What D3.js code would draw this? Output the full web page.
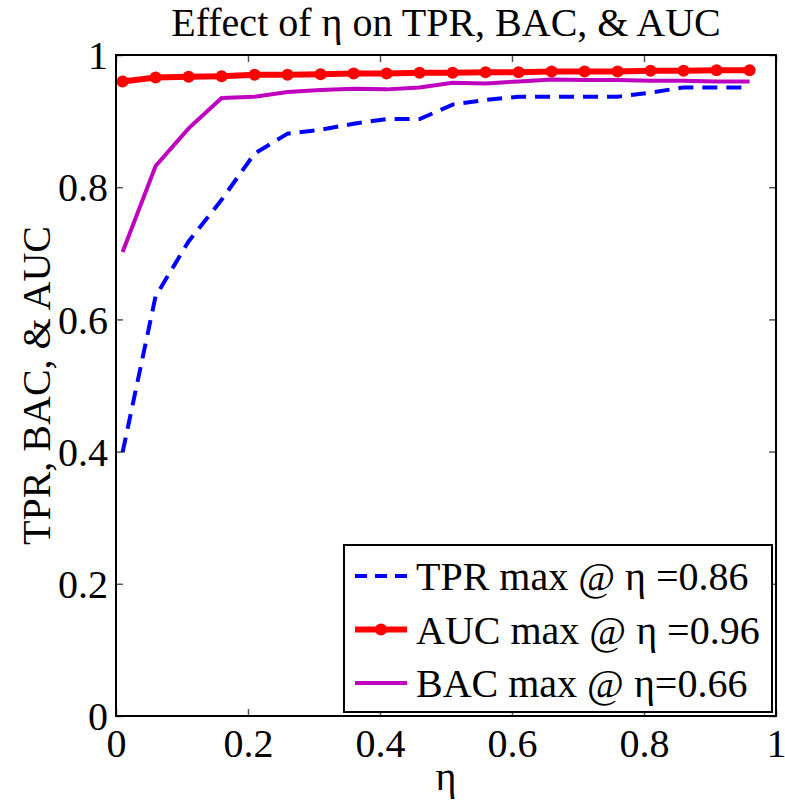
<!DOCTYPE html>
<html>
<head>
<meta charset="utf-8">
<script src="https://cdn.jsdelivr.net/npm/d3@7"></script>
</head>
<body style="margin:0;background:#fff">
<svg id="chart" width="785" height="803"></svg>
<script>
// ---- data ----
const eta = [0.01, 0.06, 0.11, 0.16, 0.21, 0.26, 0.31, 0.36, 0.41, 0.46,
             0.51, 0.56, 0.61, 0.66, 0.71, 0.76, 0.81, 0.86, 0.91, 0.96];
const tpr = [0.399, 0.635, 0.718, 0.781, 0.851, 0.881, 0.887, 0.896, 0.903, 0.903,
             0.925, 0.932, 0.937, 0.937, 0.937, 0.937, 0.943, 0.951, 0.951, 0.951];
const auc = [0.960, 0.966, 0.967, 0.968, 0.970, 0.970, 0.971, 0.972, 0.972, 0.973,
             0.973, 0.974, 0.974, 0.975, 0.975, 0.975, 0.976, 0.976, 0.977, 0.977];
const bac = [0.702, 0.832, 0.889, 0.935, 0.937, 0.944, 0.947, 0.949, 0.948, 0.951,
             0.958, 0.957, 0.960, 0.963, 0.962, 0.962, 0.961, 0.961, 0.960, 0.960];
const xTicks = [0, 0.2, 0.4, 0.6, 0.8, 1];
const yTicks = [0, 0.2, 0.4, 0.6, 0.8, 1];
const titleText = "Effect of η on TPR, BAC, & AUC";
const xLabel = "η";
const yLabel = "TPR, BAC, & AUC";
const legendLabels = ["TPR max @ η =0.86", "AUC max @ η =0.96", "BAC max @ η=0.66"];

// ---- layout ----
const L = 116, R = 776, T = 55, B = 716;
const FONT = "Liberation Serif";
const FS = 40;
const svg = d3.select("#chart");
svg.append("rect").attr("width", 785).attr("height", 803).attr("fill", "#fff");

const x = d3.scaleLinear().domain([0, 1]).range([L, R]);
const y = d3.scaleLinear().domain([0, 1]).range([B, T]);
const fmt = d => (d === 0 ? "0" : d === 1 ? "1" : d3.format(".1f")(d));

// axes
const gB = svg.append("g").attr("transform", `translate(0,${B})`)
  .call(d3.axisBottom(x).tickValues(xTicks).tickFormat(fmt).tickSizeInner(-7).tickSizeOuter(0).tickPadding(13));
const gL = svg.append("g").attr("transform", `translate(${L},0)`)
  .call(d3.axisLeft(y).tickValues(yTicks).tickFormat(fmt).tickSizeInner(-7).tickSizeOuter(0).tickPadding(8));
const gT = svg.append("g").attr("transform", `translate(0,${T})`)
  .call(d3.axisTop(x).tickValues(xTicks).tickFormat("").tickSizeInner(-7).tickSizeOuter(0));
const gR = svg.append("g").attr("transform", `translate(${R},0)`)
  .call(d3.axisRight(y).tickValues(yTicks).tickFormat("").tickSizeInner(-7).tickSizeOuter(0));
[gB, gL, gT, gR].forEach(g => {
  g.attr("font-family", FONT).attr("font-size", FS);
  g.select(".domain").remove();
  g.selectAll(".tick line").attr("stroke", "#555").attr("stroke-width", 1.5);
  g.selectAll(".tick text").attr("font-family", FONT).attr("font-size", FS).attr("fill", "#000");
});
gL.selectAll(".tick text").attr("dy", "0.34em");

// lines
const line = (arr) => d3.line().x((d, i) => x(eta[i])).y(d => y(d))(arr);
svg.append("path").attr("d", line(tpr)).attr("fill", "none")
  .attr("stroke", "#0000ff").attr("stroke-width", 4).attr("stroke-dasharray", "15,9");
svg.append("path").attr("d", line(bac)).attr("fill", "none")
  .attr("stroke", "#bf00bf").attr("stroke-width", 4);
svg.append("path").attr("d", line(auc)).attr("fill", "none")
  .attr("stroke", "#ff0000").attr("stroke-width", 6);
svg.append("g").selectAll("circle").data(auc).join("circle")
  .attr("cx", (d, i) => x(eta[i])).attr("cy", d => y(d)).attr("r", 6).attr("fill", "#ff0000");

// box
svg.append("rect").attr("x", L).attr("y", T).attr("width", R - L).attr("height", B - T)
  .attr("fill", "none").attr("stroke", "#000").attr("stroke-width", 2);

// title & labels
const txt = (sel) => sel.attr("font-family", FONT).attr("font-size", FS).attr("fill", "#000");
txt(svg.append("text").attr("x", (L + R) / 2).attr("y", 36).attr("text-anchor", "middle").text(titleText));
txt(svg.append("text").attr("x", (L + R) / 2).attr("y", 790).attr("text-anchor", "middle").text(xLabel));
txt(svg.append("text").attr("transform", `translate(50,${(T + B) / 2}) rotate(-90)`)
  .attr("text-anchor", "middle").text(yLabel));

// legend
const lg = svg.append("g");
lg.append("rect").attr("x", 344).attr("y", 545).attr("width", 428).attr("height", 167)
  .attr("fill", "#fff").attr("stroke", "#000").attr("stroke-width", 2);
const styles = [
  { color: "#0000ff", w: 4, dash: "12,8", marker: false },
  { color: "#ff0000", w: 6, dash: null, marker: true },
  { color: "#bf00bf", w: 4, dash: null, marker: false }
];
legendLabels.forEach((lab, i) => {
  const base = 590 + i * 53.5;
  const ly = base - 14;
  const s = styles[i];
  const ln = lg.append("line").attr("x1", 355).attr("x2", 407).attr("y1", ly).attr("y2", ly)
    .attr("stroke", s.color).attr("stroke-width", s.w);
  if (s.dash) ln.attr("stroke-dasharray", s.dash);
  if (s.marker) lg.append("circle").attr("cx", 381).attr("cy", ly).attr("r", 6).attr("fill", s.color);
  txt(lg.append("text").attr("x", 416).attr("y", base).text(lab));
});
</script>
</body>
</html>
